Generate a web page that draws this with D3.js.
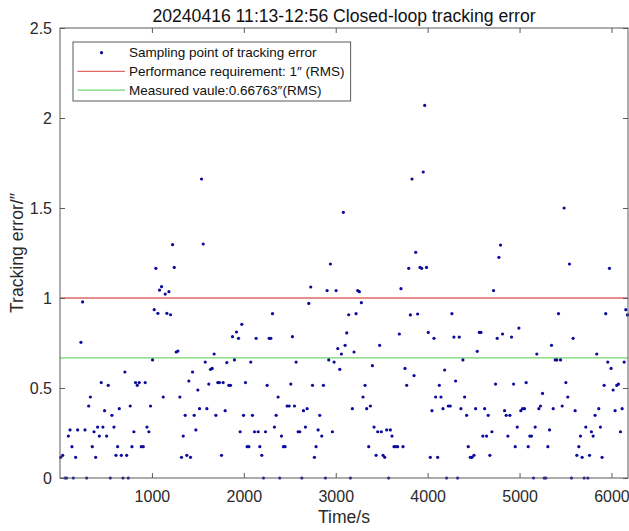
<!DOCTYPE html>
<html>
<head>
<meta charset="utf-8">
<script src="https://cdn.jsdelivr.net/npm/d3@7"></script>
<style>
  body { margin: 0; background: #fff; }
  svg { display: block; font-family: "Liberation Sans", Arial, Helvetica, sans-serif; }
</style>
</head>
<body>
<svg id="chart" width="629" height="531"></svg>
<script>
// Sampling instants (s) of the closed-loop tracking error record
const timeSec = [
  7, 29, 54, 72, 91, 109, 130, 145, 170, 192, 228, 246, 272, 290, 312, 330, 351, 370, 388, 409,
  428, 449, 467, 485, 507, 525, 547, 565, 587, 609, 627, 645, 667, 685, 706, 725, 743, 764, 783, 804,
  822, 841, 862, 884, 906, 927, 946, 967, 985, 1007, 1025, 1043, 1065, 1083, 1105, 1123, 1145, 1163, 1185, 1203,
  1225, 1243, 1264, 1283, 1304, 1322, 1341, 1362, 1380, 1402, 1420, 1442, 1460, 1478, 1500, 1518, 1540, 1558, 1580, 1598,
  1619, 1638, 1656, 1677, 1696, 1717, 1735, 1757, 1775, 1797, 1815, 1837, 1855, 1877, 1898, 1920, 1942, 1960, 1978, 1997,
  2018, 2036, 2055, 2076, 2094, 2116, 2134, 2156, 2174, 2196, 2214, 2236, 2254, 2276, 2294, 2312, 2333, 2352, 2373, 2391,
  2410, 2431, 2449, 2471, 2493, 2511, 2529, 2551, 2569, 2591, 2609, 2631, 2649, 2670, 2689, 2707, 2728, 2747, 2768, 2786,
  2808, 2826, 2848, 2866, 2888, 2906, 2924, 2942, 2964, 2982, 3004, 3022, 3044, 3062, 3083, 3102, 3120, 3141, 3160, 3181,
  3199, 3221, 3239, 3257, 3279, 3297, 3319, 3337, 3359, 3377, 3399, 3417, 3439, 3457, 3478, 3496, 3515, 3533, 3554, 3576,
  3594, 3612, 3634, 3652, 3674, 3692, 3710, 3732, 3754, 3772, 3794, 3812, 3830, 3852, 3870, 3891, 3917, 3935, 3952, 3968,
  3988, 4007, 4029, 4047, 4069, 4087, 4109, 4127, 4145, 4167, 4185, 4206, 4225, 4246, 4264, 4286, 4304, 4326, 4344, 4362,
  4384, 4402, 4424, 4442, 4464, 4482, 4504, 4522, 4540, 4562, 4580, 4601, 4620, 4641, 4659, 4677, 4699, 4717, 4739, 4757,
  4775, 4793, 4815, 4837, 4855, 4873, 4895, 4913, 4935, 4953, 4975, 4993, 5014, 5033, 5054, 5072, 5094, 5112, 5130, 5152,
  5170, 5188, 5210, 5228, 5250, 5268, 5286, 5308, 5326, 5348, 5366, 5388, 5406, 5424, 5446, 5464, 5485, 5504, 5525, 5543,
  5565, 5583, 5605, 5623, 5645, 5663, 5681, 5703, 5721, 5743, 5761, 5782, 5801, 5822, 5840, 5862, 5880, 5898, 5920, 5938,
  5960, 5978, 5996, 6018, 6040, 6058, 6076, 6098, 6116, 6138, 6156, 6174
];

// Tracking error at each instant (arcsec)
const trackErr = [
  0.115, 0.126, 0, 0, 0.233, 0.267, 0.174, 0, 0.115, 0.267, 0.754, 0.978, 0.267, 0, 0.40, 0.45, 0.174, 0.257, 0.115, 0.283,
  0.233, 0.53, 0.283, 0.374, 0.233, 0.515, 0, 0.348, 0.283, 0.126, 0.174, 0.385, 0.126, 0, 0.589, 0.126, 0, 0.40, 0.174, 0.257,
  0.53, 0.515, 0.53, 0.174, 0.174, 0.53, 0.283, 0.257, 0.40, 0.656, 0.935, 1.165, 0.915, 1.044, 1.063, 0.45, 1.022, 0.915, 1.035, 0.907,
  1.296, 1.17, 0.70, 0.705, 0.45, 0.115, 0.233, 0.348, 0.126, 0.539, 0.115, 0.589, 0.348, 0.267, 0.489, 0.385, 1.661, 1.30, 0.644, 0.385,
  0.522, 0.604, 0.609, 0.689, 0.348, 0.53, 0.53, 0.126, 0.53, 0.374, 0.641, 0.515, 0.515, 0.785, 0.656, 0.811, 0.776, 0.257, 0.854, 0.348,
  0.53, 0.174, 0.174, 0.644, 0.348, 0.257, 0.776, 0.257, 0.174, 0.126, 0, 0.257, 0.515, 0.776, 0.776, 0.913, 0.283, 0.348, 0.45, 0,
  0.233, 0.174, 0.174, 0.40, 0.40, 0.522, 0.785, 0.40, 0.644, 0.257, 0.257, 0, 0.374, 0.283, 0.385, 0.970, 1.061, 0.515, 0.115, 0.174,
  0.267, 0.348, 0.233, 0.515, 0, 1.041, 0.656, 1.189, 0.257, 0.644, 1.041, 0.719, 0.604, 0.689, 1.476, 0.737, 0.806, 0.907, 0, 0.385,
  0.70, 0.913, 1.041, 1.035, 0.974, 0.45, 0.515, 0.385, 0.174, 0.40, 0.624, 0.283, 0.126, 0.257, 0.737, 0.257, 0.126, 0.115, 0.267, 0,
  0.267, 0.233, 0.174, 0.174, 0.174, 0.80, 1.052, 0.174, 0.609, 0.515, 1.165, 0.906, 1.661, 0.569, 1.254, 0.911, 1.17, 1.165, 1.70, 2.07,
  1.17, 0.809, 0.115, 0.374, 0.776, 0.45, 0.115, 0.515, 0.45, 0.385, 0.60, 0, 0.40, 0.40, 0.913, 0.783, 0.539, 0, 0.783, 0.385,
  0.656, 0.45, 0.348, 0.174, 0.115, 0.115, 0.126, 0.385, 0.704, 0.809, 0.809, 0.233, 0.385, 0.233, 0.348, 0.126, 0.257, 1.041, 0.522, 0.776,
  1.226, 1.294, 0.80, 0.374, 0.348, 0.233, 0.348, 0.783, 0.522, 0.174, 0.283, 0.833, 0.374, 0.385, 0.385, 0.53, 0.174, 0.233, 0.233, 0,
  0.283, 0.689, 0.385, 0.40, 0.47, 0, 0, 0.174, 0.267, 0.737, 0.385, 0.656, 0.656, 0.913, 0.656, 0.40, 1.50, 0.53, 0.45, 1.189,
  0, 0.776, 0.374, 0.126, 0.174, 0.233, 0.115, 0, 0.283, 0, 0.126, 0.257, 0.233, 0.348, 0.689, 0.385, 0.283, 0.115, 0.515, 0.913,
  0.644, 1.165, 0.609, 0.489, 0.374, 0.515, 0.522, 0.257, 0.385, 0.644, 0.935, 0.906
];

const xTicks = [1000, 2000, 3000, 4000, 5000, 6000];
const yTicks = [0, 0.5, 1, 1.5, 2, 2.5];
const xDomain = [0, 6180];
const yDomain = [0, 2.5];

const requirementRms = 1;        // arcsec
const measuredRms = 0.66763;     // arcsec

const titleText = "20240416 11:13-12:56 Closed-loop tracking error";
const xLabelText = "Time/s";
const yLabelText = "Tracking error/\u2033";
const legendLabels = [
  "Sampling point of tracking error",
  "Performance requirement: 1\u2033 (RMS)",
  "Measured vaule:0.66763\u2033(RMS)"
];

// ---- layout ----
const plot = { left: 60, right: 628, top: 28, bottom: 478 };
const axisColor = "#5a5a5a";
const textColor = "#2a2a2a";
const dotColor = "#0b0b9c";
const redColor = "#dc6a66";
const greenColor = "#72d672";

const svg = d3.select("#chart");

const x = d3.scaleLinear().domain(xDomain).range([plot.left, plot.right]);
const y = d3.scaleLinear().domain(yDomain).range([plot.bottom, plot.top]);

// plot background
svg.append("rect")
  .attr("x", plot.left).attr("y", plot.top)
  .attr("width", plot.right - plot.left).attr("height", plot.bottom - plot.top)
  .attr("fill", "#fff");

// reference lines
const refLines = [
  { v: requirementRms, color: redColor },
  { v: measuredRms, color: greenColor }
];
svg.append("g").selectAll("line").data(refLines).join("line")
  .attr("x1", x(xDomain[0])).attr("x2", x(xDomain[1]))
  .attr("y1", d => y(d.v)).attr("y2", d => y(d.v))
  .attr("stroke", d => d.color).attr("stroke-width", 1.4);

// sample points
const samples = timeSec.map((t, i) => ({ t, e: trackErr[i] }));
svg.append("g").selectAll("circle").data(samples).join("circle")
  .attr("cx", d => x(d.t)).attr("cy", d => y(d.e))
  .attr("r", 1.6).attr("fill", dotColor);

// axes: box with inward ticks on all four sides
const tickLen = 5;
const fontTick = 16;

const gx = svg.append("g").attr("transform", `translate(0,${plot.bottom})`)
  .call(d3.axisBottom(x).tickValues(xTicks).tickSize(-tickLen).tickPadding(13).tickFormat(d3.format("d")));
const gxTop = svg.append("g").attr("transform", `translate(0,${plot.top})`)
  .call(d3.axisTop(x).tickValues(xTicks).tickSize(-tickLen).tickFormat(""));
const gy = svg.append("g").attr("transform", `translate(${plot.left},0)`)
  .call(d3.axisLeft(y).tickValues(yTicks).tickSize(-tickLen).tickPadding(8).tickFormat(d => d3.format("~g")(d)));
const gyRight = svg.append("g").attr("transform", `translate(${plot.right},0)`)
  .call(d3.axisRight(y).tickValues(yTicks).tickSize(-tickLen).tickFormat(""));

[gx, gxTop, gy, gyRight].forEach(g => {
  g.select(".domain").remove();
  g.selectAll(".tick line").attr("stroke", axisColor).attr("stroke-width", 1);
  g.selectAll(".tick text").attr("fill", textColor).attr("font-size", fontTick)
    .attr("font-family", "'Liberation Sans', Arial, sans-serif");
});

// box
svg.append("rect")
  .attr("x", plot.left).attr("y", plot.top)
  .attr("width", plot.right - plot.left).attr("height", plot.bottom - plot.top)
  .attr("fill", "none").attr("stroke", axisColor).attr("stroke-width", 1);

// title and axis labels
svg.append("text")
  .attr("x", (plot.left + plot.right) / 2).attr("y", 22)
  .attr("text-anchor", "middle").attr("font-size", 17.6).attr("fill", "#111")
  .text(titleText);

svg.append("text")
  .attr("x", (plot.left + plot.right) / 2).attr("y", 523)
  .attr("text-anchor", "middle").attr("font-size", 17.6).attr("fill", textColor)
  .text(xLabelText);

svg.append("text")
  .attr("transform", `translate(23,${(plot.top + plot.bottom) / 2}) rotate(-90)`)
  .attr("text-anchor", "middle").attr("font-size", 17.6).attr("fill", textColor)
  .text(yLabelText);

// legend
const legend = svg.append("g");
const legX = 73, legY = 42, rowH = 18.7, legFont = 13.5;
const legendItems = [
  { label: legendLabels[0], kind: "dot", color: dotColor },
  { label: legendLabels[1], kind: "line", color: redColor },
  { label: legendLabels[2], kind: "line", color: greenColor }
];
const legBox = legend.append("rect")
  .attr("x", legX).attr("y", legY).attr("height", 59)
  .attr("fill", "#fff").attr("stroke", axisColor).attr("stroke-width", 1);

let maxW = 0;
legendItems.forEach((it, i) => {
  const cy = legY + 10.7 + i * rowH;
  if (it.kind === "dot") {
    legend.append("circle").attr("cx", legX + 28.5).attr("cy", cy).attr("r", 1.6).attr("fill", it.color);
  } else {
    legend.append("line").attr("x1", legX + 4.5).attr("x2", legX + 52)
      .attr("y1", cy).attr("y2", cy).attr("stroke", it.color).attr("stroke-width", 1.4);
  }
  const t = legend.append("text").attr("x", legX + 56).attr("y", cy).attr("dy", "0.35em")
    .attr("font-size", legFont).attr("fill", "#111").text(it.label);
  maxW = Math.max(maxW, t.node().getComputedTextLength());
});
legBox.attr("width", 56 + maxW + 6);
</script>
</body>
</html>
